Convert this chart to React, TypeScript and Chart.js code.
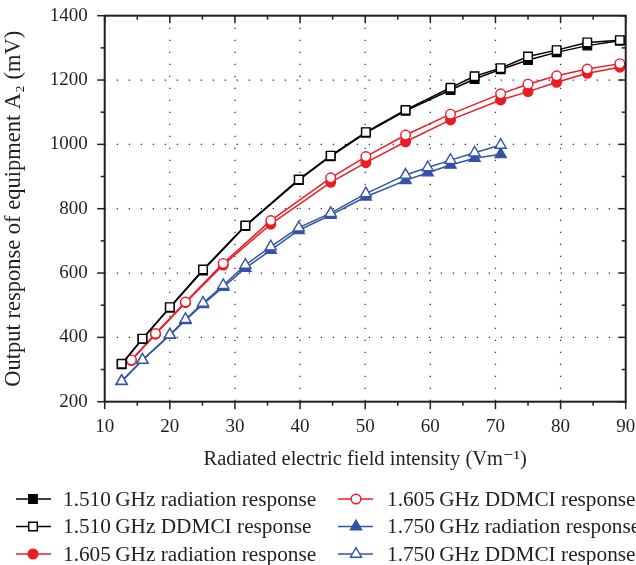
import React, { useEffect, useRef } from 'react';
import { Chart, registerables } from 'chart.js';

Chart.register(...registerables);

const FONT = '"Liberation Serif", "DejaVu Serif", serif';
const BLACK = '#000000';
const RED = '#ed1c24';
const BLUE = '#3353a6';
const AXIS = '#231f20';

// Axis ticks
const xTicks = [10, 20, 30, 40, 50, 60, 70, 80, 90];
const xMinorTicks = [15, 25, 35, 45, 55, 65, 75, 85];
const yTicks = [200, 400, 600, 800, 1000, 1200, 1400];
const yMinorTicks = [300, 500, 700, 900, 1100, 1300];

// 1.510 GHz
const x1510 = [12.6, 15.8, 20, 25.1, 31.6, 39.8, 44.7, 50.1, 56.2, 63.1, 66.8, 70.8, 75, 79.4, 84.1, 89.1];
const rad1510 = [316, 395, 492, 608, 746, 889, 963, 1036, 1104, 1169, 1203, 1233, 1262, 1286, 1307, 1322];
const ddmci1510 = [318, 396, 494, 611, 748, 891, 965, 1038, 1107, 1176, 1212, 1237, 1273, 1293, 1317, 1324];

// 1.605 GHz
const x1605 = [14.1, 17.8, 22.4, 28.2, 35.5, 44.7, 50.1, 56.2, 63.1, 70.8, 75, 79.4, 84.1, 89.1];
const rad1605 = [328, 410, 508, 625, 752, 882, 943, 1008, 1076, 1138, 1164, 1193, 1221, 1240];
const ddmci1605 = [330, 412, 510, 630, 763, 896, 962, 1029, 1094, 1157, 1187, 1213, 1234, 1251];

// 1.750 GHz
const x1750 = [12.6, 15.8, 20, 22.4, 25.1, 28.2, 31.6, 35.5, 39.8, 44.7, 50.1, 56.2, 59.6, 63.1, 66.8, 70.8];
const rad1750 = [263, 329, 407, 453, 503, 556, 615, 671, 733, 780, 837, 888, 912, 936, 957, 969];
const ddmci1750 = [264, 330, 408, 456, 507, 562, 625, 682, 741, 786, 847, 905, 928, 951, 974, 998];

const legendLabels = [
  '1.510\u2009GHz radiation response',
  '1.510\u2009GHz DDMCI response',
  '1.605\u2009GHz radiation response',
  '1.605\u2009GHz DDMCI response',
  '1.750\u2009GHz radiation response',
  '1.750\u2009GHz DDMCI response',
];

const xTitle = 'Radiated electric field intensity (Vm\u207B\u00B9)';
const yTitle = 'Output response of equipment A\u2082 (mV)';

type Series = { label: string; xs: number[]; ys: number[]; color: string; style: string; filled: boolean; radius: number };

const series: Series[] = [
  { label: legendLabels[0], xs: x1510, ys: rad1510, color: BLACK, style: 'rect', filled: true, radius: 6 },
  { label: legendLabels[1], xs: x1510, ys: ddmci1510, color: BLACK, style: 'rect', filled: false, radius: 6 },
  { label: legendLabels[2], xs: x1605, ys: rad1605, color: RED, style: 'circle', filled: true, radius: 4.8 },
  { label: legendLabels[3], xs: x1605, ys: ddmci1605, color: RED, style: 'circle', filled: false, radius: 4.8 },
  { label: legendLabels[4], xs: x1750, ys: rad1750, color: BLUE, style: 'triangle', filled: true, radius: 6.4 },
  { label: legendLabels[5], xs: x1750, ys: ddmci1750, color: BLUE, style: 'triangle', filled: false, radius: 6.4 },
];

function drawMarker(ctx: CanvasRenderingContext2D, s: Series, x: number, y: number, scale: number) {
  ctx.save();
  ctx.setLineDash([]);
  ctx.lineWidth = 1.4;
  ctx.strokeStyle = s.color;
  ctx.fillStyle = s.filled ? s.color : '#ffffff';
  ctx.beginPath();
  const r = s.radius * scale;
  if (s.style === 'rect') {
    const h = r * Math.SQRT1_2;
    ctx.rect(x - h, y - h, 2 * h, 2 * h);
  } else if (s.style === 'circle') {
    ctx.arc(x, y, r, 0, Math.PI * 2);
  } else {
    let rad = 0;
    ctx.moveTo(x + Math.sin(rad) * r, y - Math.cos(rad) * r);
    rad += (2 * Math.PI) / 3;
    ctx.lineTo(x + Math.sin(rad) * r, y - Math.cos(rad) * r);
    rad += (2 * Math.PI) / 3;
    ctx.lineTo(x + Math.sin(rad) * r, y - Math.cos(rad) * r);
    ctx.closePath();
  }
  ctx.fill();
  ctx.stroke();
  ctx.restore();
}

const decorPlugin = {
  id: 'decor',
  beforeDatasetsDraw(chart: any) {
    const { ctx, chartArea: a, scales } = chart;
    const xs = scales.x;
    const ys = scales.y;
    ctx.save();
    ctx.strokeStyle = '#333333';
    ctx.lineWidth = 1.3;
    ctx.setLineDash([1.3, 10.7]);
    xTicks.slice(1, -1).forEach((v) => {
      const px = xs.getPixelForValue(v);
      ctx.beginPath();
      ctx.moveTo(px, a.top);
      ctx.lineTo(px, a.bottom);
      ctx.stroke();
    });
    yTicks.slice(1, -1).forEach((v) => {
      const py = ys.getPixelForValue(v);
      ctx.beginPath();
      ctx.moveTo(a.left, py);
      ctx.lineTo(a.right, py);
      ctx.stroke();
    });
    ctx.restore();
  },
  afterDatasetsDraw(chart: any) {
    const { ctx, chartArea: a, scales } = chart;
    const xs = scales.x;
    const ys = scales.y;
    ctx.save();
    ctx.setLineDash([]);
    ctx.strokeStyle = AXIS;
    ctx.lineWidth = 2;
    ctx.strokeRect(a.left, a.top, a.right - a.left, a.bottom - a.top);
    ctx.lineWidth = 1.5;
    const major = 7.5;
    const minor = 4;
    const line = (x1: number, y1: number, x2: number, y2: number) => {
      ctx.beginPath();
      ctx.moveTo(x1, y1);
      ctx.lineTo(x2, y2);
      ctx.stroke();
    };
    xTicks.forEach((v) => {
      const px = xs.getPixelForValue(v);
      line(px, a.bottom, px, a.bottom + major);
      line(px, a.top, px, a.top + major);
    });
    xMinorTicks.forEach((v) => {
      const px = xs.getPixelForValue(v);
      line(px, a.bottom, px, a.bottom + minor);
      line(px, a.top, px, a.top + minor);
    });
    yTicks.forEach((v) => {
      const py = ys.getPixelForValue(v);
      line(a.left - major, py, a.left, py);
      line(a.right - major, py, a.right, py);
    });
    yMinorTicks.forEach((v) => {
      const py = ys.getPixelForValue(v);
      line(a.left - minor, py, a.left, py);
      line(a.right - minor, py, a.right, py);
    });
    ctx.restore();
  },
  afterDraw(chart: any) {
    const ctx: CanvasRenderingContext2D = chart.ctx;
    const cols = [
      { lineFrom: 16, lineTo: 51, marker: 33, text: 63 },
      { lineFrom: 338, lineTo: 373, marker: 356, text: 387 },
    ];
    const rows = [499, 526.5, 554];
    ctx.save();
    ctx.font = `21.3px ${FONT}`;
    ctx.textBaseline = 'middle';
    ctx.textAlign = 'left';
    series.forEach((s, i) => {
      const c = cols[Math.floor(i / 3)];
      const y = rows[i % 3];
      ctx.strokeStyle = s.color;
      ctx.lineWidth = 1.5;
      ctx.beginPath();
      ctx.moveTo(c.lineFrom, y);
      ctx.lineTo(c.lineTo, y);
      ctx.stroke();
      drawMarker(ctx, s, c.marker, y, 1);
      ctx.fillStyle = '#231f20';
      ctx.fillText(s.label, c.text, y + 1);
    });
    ctx.restore();
  },
};

export default function App() {
  const ref = useRef<HTMLCanvasElement>(null);
  useEffect(() => {
    if (!ref.current) return;
    const chart = new Chart(ref.current, {
      type: 'line',
      data: {
        datasets: series.map((s, i) => ({
          label: s.label,
          data: s.xs.map((x, k) => ({ x, y: s.ys[k] })),
          borderColor: s.color,
          backgroundColor: s.color,
          borderWidth: 1.5,
          pointStyle: s.style as any,
          pointRadius: s.radius,
          pointBorderWidth: 1.4,
          pointBorderColor: s.color,
          pointBackgroundColor: s.filled ? s.color : '#ffffff',
          tension: 0,
          fill: false,
          order: s.filled ? 2 + i : i,
        })),
      },
      options: {
        animation: false,
        responsive: false,
        devicePixelRatio: 1,
        layout: { padding: { left: 0, right: 10.3, top: 15.7, bottom: 93.3 } },
        plugins: { legend: { display: false }, tooltip: { enabled: false } },
        scales: {
          x: {
            type: 'linear',
            min: 10,
            max: 90,
            afterFit: (s: any) => {
              s.height = 70;
              s.paddingLeft = 0;
              s.paddingRight = 0;
              s.paddingTop = 0;
              s.paddingBottom = 0;
            },
            afterBuildTicks: (s: any) => { s.ticks = xTicks.map((v) => ({ value: v })); },
            ticks: { font: { family: FONT, size: 19 }, color: AXIS, padding: 14, callback: (v: any) => String(v) },
            grid: { display: false, drawTicks: false },
            border: { display: false },
            title: { display: true, text: xTitle, font: { family: FONT, size: 20.5 }, color: AXIS, padding: { top: 0, bottom: 0 } },
          },
          y: {
            type: 'linear',
            min: 200,
            max: 1400,
            afterFit: (s: any) => {
              s.width = 104.7;
              s.paddingLeft = 0;
              s.paddingRight = 0;
              s.paddingTop = 0;
              s.paddingBottom = 0;
            },
            afterBuildTicks: (s: any) => { s.ticks = yTicks.map((v) => ({ value: v })); },
            ticks: { font: { family: FONT, size: 19 }, color: AXIS, padding: 17, callback: (v: any) => String(v) },
            grid: { display: false, drawTicks: false },
            border: { display: false },
            title: { display: true, text: yTitle, font: { family: FONT, size: 22.5 }, color: AXIS, padding: { top: 1, bottom: 0 } },
          },
        },
      },
      plugins: [decorPlugin],
    });
    return () => chart.destroy();
  }, []);
  return (
    <div style={{ position: 'absolute', left: 0, top: 0, width: 636, height: 565, background: '#ffffff' }}>
      <canvas ref={ref} width={636} height={565} style={{ display: 'block', width: 636, height: 565 }} />
    </div>
  );
}
